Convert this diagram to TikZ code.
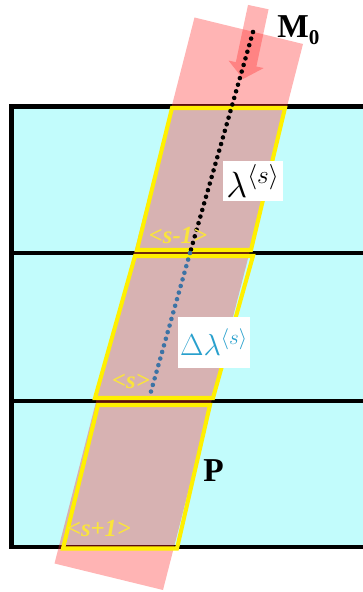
\documentclass[tikz,border=0pt]{standalone}
\usepackage{fontspec}
\setmainfont{Liberation Serif}
\definecolor{layercyan}{RGB}{194,252,252}
\definecolor{bandred}{RGB}{255,40,40}
\definecolor{edgeyellow}{RGB}{255,240,0}
\definecolor{labelyellow}{RGB}{250,228,60}
\definecolor{dotblue}{RGB}{60,115,165}
\definecolor{deltablue}{RGB}{40,160,205}
\begin{document}
\begin{tikzpicture}[
  layerline/.style={line width=2.3pt},
  band/.style={fill=bandred, fill opacity=0.35},
  slab/.style={draw=edgeyellow, line width=2.3pt, line join=miter},
  pathdots/.style={line width=2.6pt, line cap=round, dash pattern=on 0pt off 3.9pt},
  slablabel/.style={text=labelyellow, font=\fontsize{14}{16}\selectfont\bfseries\itshape, inner sep=0pt},
  tag/.style={fill=white, inner sep=2pt, font=\fontsize{20}{24}\selectfont},
  boldlabel/.style={font=\fontsize{19}{22}\selectfont\bfseries, inner sep=0pt}
]
\useasboundingbox (0,0) rectangle (7.24,11.84);

\fill[layercyan] (0.23,0.90) rectangle (7.3,9.71);
\draw[layerline] (7.3,9.71) -- (0.23,9.71) -- (0.23,0.90) -- (7.3,0.90);
\draw[layerline] (0.23,6.78) -- (7.3,6.78);
\draw[layerline] (0.23,3.82) -- (7.3,3.82);

\fill[band] (3.89,11.49) -- (6.06,10.96) -- (3.26,0.04) -- (1.09,0.57) -- cycle;
\begin{scope}[shift={(4.86,10.26)}, rotate=-12]
\fill[band] (0,0) -- (-0.36,0.3) -- (-0.21,0.3) -- (-0.21,1.47) -- (0.21,1.47)
  -- (0.21,0.3) -- (0.36,0.3) -- cycle;
\end{scope}

\draw[slab] (3.44,9.68) -- (5.70,9.68) -- (5.02,6.84) -- (2.74,6.84) -- cycle;
\draw[slab] (2.70,6.72) -- (5.06,6.72) -- (4.26,3.88) -- (1.90,3.88) -- cycle;
\draw[slab] (1.96,3.74) -- (4.20,3.74) -- (3.54,0.87) -- (1.26,0.87) -- cycle;

\coordinate (m0) at (5.06,11.20);
\coordinate (s1) at (3.80,6.78);
\coordinate (s2) at (3.00,3.94);
\draw[pathdots] (m0) -- (s1);
\draw[pathdots, dotblue] (s1) -- (s2);

\node[boldlabel, anchor=base west] (mzero) at (5.54,11.08)
  {M\raisebox{-0.2em}{\fontsize{12}{14}\selectfont 0}};
\node[boldlabel, anchor=base west] (pt) at (4.06,2.20) {P};
\node[tag, minimum width=1.2cm, minimum height=0.76cm] (lam) at (5.06,8.22)
  {$\lambda^{\langle s\rangle}$};
\node[tag, text=deltablue, inner sep=1pt, font=\fontsize{17}{20}\selectfont,
  minimum width=1.44cm, minimum height=1.02cm] (dlam)
  at (4.28,4.99) {$\Delta\lambda^{\langle s\rangle}$};

\node[slablabel] (prev) at (3.56,7.12) {<s-1>};
\node[slablabel] (cur) at (2.62,4.22) {<s>};
\node[slablabel] (next) at (1.98,1.26) {<s+1>};
\end{tikzpicture}
\end{document}
